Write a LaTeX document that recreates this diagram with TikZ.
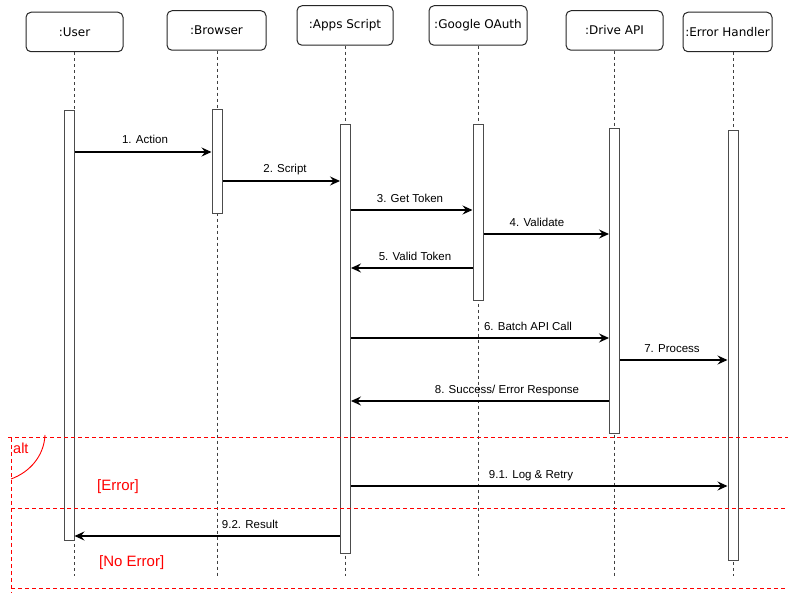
\documentclass[tikz,border=0pt]{standalone}
\usepackage{fontspec}
\setmainfont{Liberation Sans}
\newfontfamily\headfont{DejaVu Sans}
\usetikzlibrary{arrows.meta}
\begin{document}
\begin{tikzpicture}[x=1pt,y=-1pt,
  head/.style={draw=black!85, rounded corners=5pt, line width=1pt, minimum height=39.5pt, inner sep=0pt, font=\headfont\fontsize{12}{14}\selectfont, fill=white},
  bar/.style={draw=black!70, fill=white, line width=1pt, minimum width=10pt, inner sep=0pt, anchor=north},
  life/.style={draw=black!75, dash pattern=on 3pt off 3pt, line width=0.9pt},
  msg/.style={draw=black, line width=1.1pt, -{Stealth[length=10pt,width=9pt,inset=3.5pt]}},
  lbl/.style={font=\fontsize{11.5}{13}\selectfont, anchor=base, inner sep=0pt},
  frag/.style={draw=red, dash pattern=on 4pt off 3pt, line width=1pt},
  guard/.style={text=red, font=\fontsize{15}{17}\selectfont, anchor=base west, inner sep=0pt}
]
\useasboundingbox (0,0) rectangle (788,593);

% headers
\node[head, minimum width=97pt] (hUser) at (74.5,32) {:User};
\node[head, minimum width=99pt] (hBrowser) at (216.5,30.5) {:Browser};
\node[head, minimum width=96pt] (hApps) at (345,25.5) {:Apps Script};
\node[head, minimum width=98pt] (hOAuth) at (478,25.5) {:Google OAuth};
\node[head, minimum width=97pt] (hDrive) at (614.5,30.5) {:Drive API};
\node[head, minimum width=89pt] (hErr) at (727.5,32) {:Error Handler};

% lifeline ends
\coordinate (uEnd) at (74,576);
\coordinate (bEnd) at (217,576);
\coordinate (aEnd) at (345.5,576);
\coordinate (oEnd) at (478,576);
\coordinate (dEnd) at (614.5,576);
\coordinate (eEnd) at (733,576);
\draw[life] (hUser.south -| uEnd) -- (uEnd);
\draw[life] (hBrowser.south -| bEnd) -- (bEnd);
\draw[life] (hApps.south -| aEnd) -- (aEnd);
\draw[life] (hOAuth.south -| oEnd) -- (oEnd);
\draw[life] (hDrive.south -| dEnd) -- (dEnd);
\draw[life] (hErr.south -| eEnd) -- (eEnd);

% activation bars
\node[bar, minimum height=430pt] (uBar) at (69,110) {};
\node[bar, minimum height=104pt] (bBar) at (217,109) {};
\node[bar, minimum height=429pt] (aBar) at (345.5,124) {};
\node[bar, minimum height=176pt] (oBar) at (478,124) {};
\node[bar, minimum height=305pt] (dBar) at (614.5,128) {};
\node[bar, minimum height=430pt] (eBar) at (733,130) {};

% message rows
\coordinate (y1) at (0,152);
\coordinate (y2) at (0,181);
\coordinate (y3) at (0,210);
\coordinate (y4) at (0,234);
\coordinate (y5) at (0,268);
\coordinate (y6) at (0,338);
\coordinate (y7) at (0,360);
\coordinate (y8) at (0,401);
\coordinate (y9) at (0,486);
\coordinate (y10) at (0,536);

\draw[msg] (uBar.east |- y1) -- (bBar.west |- y1);
\draw[msg] (bBar.east |- y2) -- (aBar.west |- y2);
\draw[msg] (aBar.east |- y3) -- (oBar.west |- y3);
\draw[msg] (oBar.east |- y4) -- (dBar.west |- y4);
\draw[msg] (oBar.west |- y5) -- (aBar.east |- y5);
\draw[msg] (aBar.east |- y6) -- (dBar.west |- y6);
\draw[msg] (dBar.east |- y7) -- (eBar.west |- y7);
\draw[msg] (dBar.west |- y8) -- (aBar.east |- y8);
\draw[msg] (aBar.east |- y9) -- (eBar.west |- y9);
\draw[msg] (aBar.west |- y10) -- (uBar.east |- y10);

\node[lbl] (l1) at (145,144) {1. Action};
\node[lbl] (l2) at (285,173) {2. Script};
\node[lbl] (l3) at (410,202.5) {3. Get Token};
\node[lbl] (l4) at (537,226.5) {4. Validate};
\node[lbl] (l5) at (415,260.5) {5. Valid Token};
\node[lbl] (l6) at (528,330.5) {6. Batch API Call};
\node[lbl] (l7) at (672,352.5) {7. Process};
\node[lbl] (l8) at (507,393.5) {8. Success/ Error Response};
\node[lbl] (l9) at (531,478.5) {9.1. Log \& Retry};
\node[lbl] (l10) at (250,528.5) {9.2. Result};

% alt fragment
\draw[frag] (8,438) -- (788,438);
\draw[frag] (11,438) -- (11,593);
\draw[frag] (11,509) -- (788,509);
\draw[frag] (11,589) -- (788,589);
\draw[red, line width=0.9pt] (45,435) .. controls (44,456) and (30,472) .. (11,479);
\node[text=red, font=\fontsize{14.5}{16}\selectfont, anchor=base west, inner sep=0pt] (alt) at (13,454) {alt};
\node[guard] (gErr) at (97,490.5) {[Error]};
\node[guard] (gNoErr) at (99,566.5) {[No Error]};
\end{tikzpicture}
\end{document}
